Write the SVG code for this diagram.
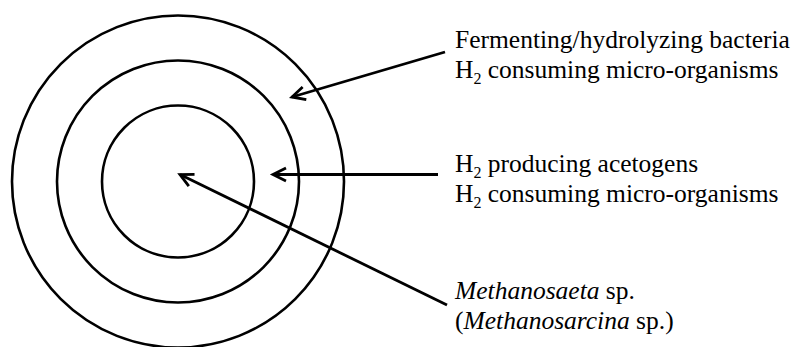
<svg xmlns="http://www.w3.org/2000/svg" width="795" height="347" viewBox="0 0 795 347">
<style>
.ring{fill:none;stroke:#000;stroke-width:2.6}
.arr{fill:none;stroke:#000;stroke-width:2.8;marker-end:url(#ah)}
text{font-family:"Liberation Serif","Times New Roman",serif;font-size:25.5px;fill:#000}
.sub{font-size:16px}
</style>
<defs>
<marker id="ah" markerUnits="userSpaceOnUse" markerWidth="20" markerHeight="20" refX="0" refY="0" viewBox="-16 -10 20 20" orient="auto" overflow="visible">
<path d="M-13,-6.5 L0,0 L-13,6.5" fill="none" stroke="#000" stroke-width="2.8" stroke-linejoin="miter"/>
</marker>
</defs>
<g id="rings">
<circle id="outer" class="ring" cx="178" cy="181.5" r="166"/>
<circle id="middle" class="ring" cx="178" cy="181.5" r="121"/>
<circle id="inner" class="ring" cx="178" cy="181.5" r="76"/>
</g>
<g id="connectors">
<line class="arr" x1="445" y1="52" x2="292" y2="97"/>
<line class="arr" x1="438" y1="174.5" x2="273" y2="174.5"/>
<line class="arr" x1="447" y1="305" x2="180" y2="174.5"/>
</g>
<g id="label1">
<text x="455" y="47.5">Fermenting/hydrolyzing bacteria</text>
<text x="455" y="78">H<tspan class="sub" dy="6">2</tspan><tspan dy="-6"> consuming micro-organisms</tspan></text>
</g>
<g id="label2">
<text x="455" y="172">H<tspan class="sub" dy="6">2</tspan><tspan dy="-6"> producing acetogens</tspan></text>
<text x="455" y="202">H<tspan class="sub" dy="6">2</tspan><tspan dy="-6"> consuming micro-organisms</tspan></text>
</g>
<g id="label3">
<text x="455" y="298.5"><tspan font-style="italic">Methanosaeta</tspan> sp.</text>
<text x="455" y="328.5">(<tspan font-style="italic">Methanosarcina</tspan> sp.)</text>
</g>
</svg>
